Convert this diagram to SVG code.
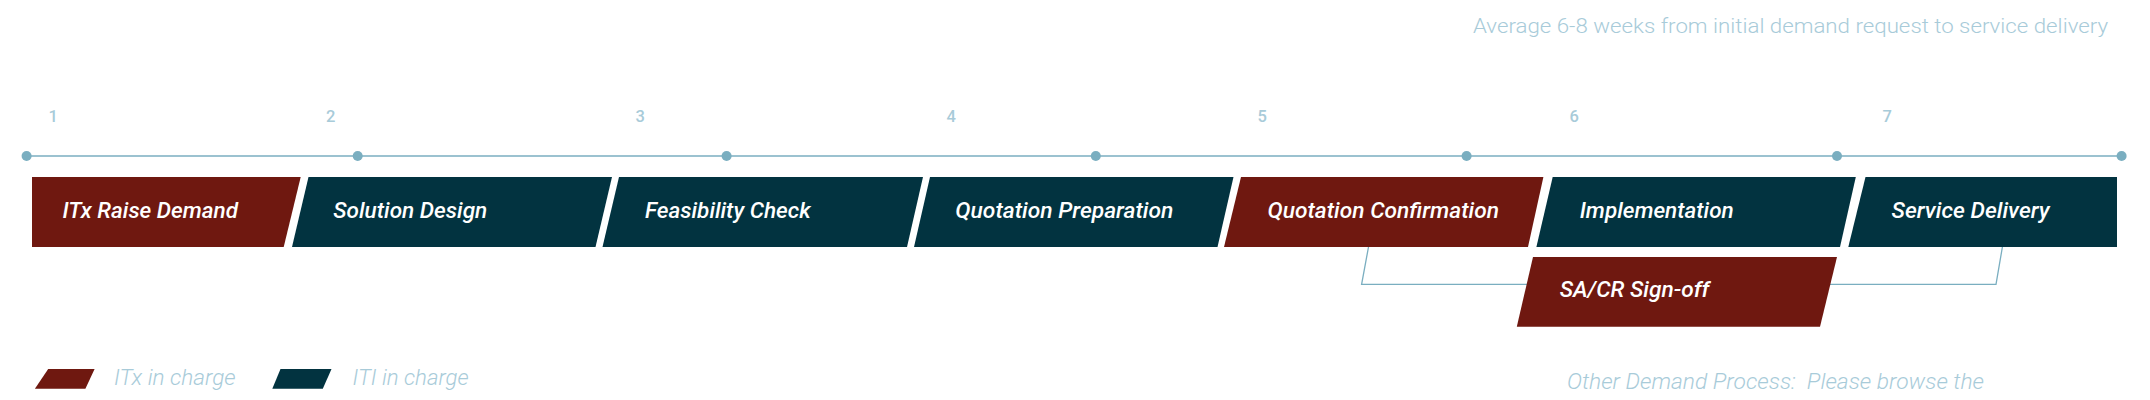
<svg xmlns="http://www.w3.org/2000/svg" width="2150" height="400" viewBox="0 0 2150 400">
<style>
.itx{fill:#6f1810}
.iti{fill:#023340}
.lbl{font-family:Roboto,"Liberation Sans",sans-serif;font-style:italic;font-weight:500;font-size:22px;fill:#ffffff}
.num{font-family:Roboto,"Liberation Sans",sans-serif;font-weight:500;font-size:16.5px;fill:#a8cbd9}
.note{font-family:Roboto,"Liberation Sans",sans-serif;font-weight:300;font-size:21px;fill:#a8cbd9}
.leg{font-family:Roboto,"Liberation Sans",sans-serif;font-style:italic;font-weight:300;font-size:22px;fill:#a8cbd9}
.tl{stroke:#7aaec0;stroke-width:1.6;fill:none}
.dot{fill:#7aaec0}
.con{stroke:#7aaec0;stroke-width:1.3;fill:none}
</style>
<rect width="2150" height="400" fill="#ffffff"/>
<text class="note" x="1473" y="33" textLength="635" lengthAdjust="spacingAndGlyphs">Average 6-8 weeks from initial demand request to service delivery</text>
<g id="timeline">
<line class="tl" x1="26.6" y1="156" x2="2121.6" y2="156"/>
<circle class="dot" cx="26.6" cy="156" r="5"/>
<circle class="dot" cx="357.7" cy="156" r="5"/>
<circle class="dot" cx="726.6" cy="156" r="5"/>
<circle class="dot" cx="1095.8" cy="156" r="5"/>
<circle class="dot" cx="1466.6" cy="156" r="5"/>
<circle class="dot" cx="1837" cy="156" r="5"/>
<circle class="dot" cx="2121.6" cy="156" r="5"/>
<text class="num" x="48.5" y="122.3">1</text>
<text class="num" x="326" y="122.3">2</text>
<text class="num" x="635.5" y="122.3">3</text>
<text class="num" x="946.5" y="122.3">4</text>
<text class="num" x="1257.5" y="122.3">5</text>
<text class="num" x="1569.5" y="122.3">6</text>
<text class="num" x="1882.5" y="122.3">7</text>
</g>
<g id="connectors">
<polyline class="con" points="1368.5,247 1361.6,284.3 1996,284.3 2002.4,247"/>
</g>
<g id="n1">
<polygon class="itx" points="32,177 300.7,177 283.7,247 32,247"/>
<text class="lbl" x="62.5" y="217.7" textLength="175.5" lengthAdjust="spacingAndGlyphs">ITx Raise Demand</text>
</g>
<g id="n2">
<polygon class="iti" points="308.5,177 612,177 595.5,247 292,247"/>
<text class="lbl" x="333.3" y="217.7" textLength="154" lengthAdjust="spacingAndGlyphs">Solution Design</text>
</g>
<g id="n3">
<polygon class="iti" points="619,177 923,177 907,247 602.5,247"/>
<text class="lbl" x="645" y="217.7" textLength="165.6" lengthAdjust="spacingAndGlyphs">Feasibility Check</text>
</g>
<g id="n4">
<polygon class="iti" points="930,177 1233.5,177 1217.5,247 914,247"/>
<text class="lbl" x="955.3" y="217.7" textLength="218" lengthAdjust="spacingAndGlyphs">Quotation Preparation</text>
</g>
<g id="n5">
<polygon class="itx" points="1241,177 1543.4,177 1528,247 1224,247"/>
<text class="lbl" x="1267.5" y="217.7" textLength="231.5" lengthAdjust="spacingAndGlyphs">Quotation Confirmation</text>
</g>
<g id="n6">
<polygon class="iti" points="1552.7,177 1855.8,177 1840,247 1536.4,247"/>
<text class="lbl" x="1579.7" y="217.7" textLength="154" lengthAdjust="spacingAndGlyphs">Implementation</text>
</g>
<g id="n7">
<polygon class="iti" points="1865.5,177 2117,177 2117,247 1848.3,247"/>
<text class="lbl" x="1891.6" y="217.7" textLength="158" lengthAdjust="spacingAndGlyphs">Service Delivery</text>
</g>
<g id="n8">
<polygon class="itx" points="1533,257 1837,257 1820,326.7 1516.8,326.7"/>
<text class="lbl" x="1559.7" y="297" textLength="149.5" lengthAdjust="spacingAndGlyphs">SA/CR Sign-off</text>
</g>
<g id="legend">
<polygon class="itx" points="48.2,369 94.6,369 85.4,388.7 34.9,388.7"/>
<text class="leg" x="113.9" y="385" textLength="121.7" lengthAdjust="spacingAndGlyphs">ITx in charge</text>
<polygon class="iti" points="280.5,369 331.5,369 322.8,388.7 272.3,388.7"/>
<text class="leg" x="352.6" y="385" textLength="116" lengthAdjust="spacingAndGlyphs">ITI in charge</text>
</g>
<text class="leg" x="1567" y="389" textLength="417" lengthAdjust="spacingAndGlyphs" xml:space="preserve">Other Demand Process:  Please browse the</text>
</svg>
